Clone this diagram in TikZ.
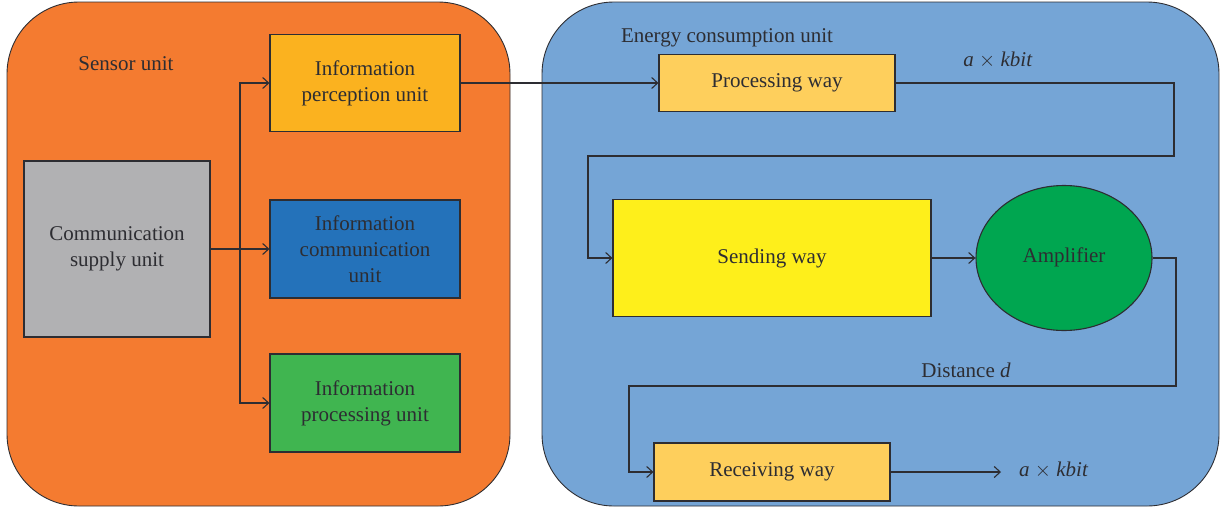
\documentclass[tikz,border=0pt]{standalone}
\usepackage{fontspec}
\setmainfont{Liberation Serif}
\usetikzlibrary{arrows.meta,shapes.geometric}
\definecolor{orangebg}{RGB}{244,123,48}
\definecolor{bluebg}{RGB}{117,165,214}
\definecolor{percep}{RGB}{251,178,31}
\definecolor{commu}{RGB}{36,114,186}
\definecolor{procu}{RGB}{64,181,80}
\definecolor{grayu}{RGB}{177,177,179}
\definecolor{wayc}{RGB}{254,207,92}
\definecolor{sendc}{RGB}{254,239,27}
\definecolor{ampc}{RGB}{0,166,80}
\definecolor{linec}{RGB}{45,45,50}
\begin{document}
\begin{tikzpicture}[x=1pt,y=-1pt,
  box/.style={draw=linec,line width=1.1pt,inner sep=0pt,align=center,font=\fontsize{21}{26}\selectfont,text=linec},
  lbl/.style={inner sep=0pt,font=\fontsize{21}{26}\selectfont,text=linec},
  con/.style={draw=linec,line width=1.1pt,-{Straight Barb[length=6pt,width=11pt]}},
  plain/.style={draw=linec,line width=1.1pt}]
\useasboundingbox (0,0) rectangle (1223,509);
\draw[fill=orangebg,draw=linec,line width=0.9pt,rounded corners=72pt] (7,2) rectangle (510,506);
\draw[fill=bluebg,draw=linec,line width=0.9pt,rounded corners=72pt] (542,2) rectangle (1219,506);
\node[lbl] (sensor) at (126,64) {Sensor unit};
\node[lbl] (energy) at (727,38) {Energy consumption unit};
\node[box,fill=grayu,minimum width=186pt,minimum height=176pt] (supply) at (117,249) {Communication\\supply unit};
\node[box,fill=percep,minimum width=190pt,minimum height=97pt] (percep) at (365,83) {Information\\perception unit};
\node[box,fill=commu,minimum width=190pt,minimum height=98pt] (comm) at (365,249) {Information\\communication\\unit};
\node[box,fill=procu,minimum width=190pt,minimum height=98pt] (proc) at (365,403) {Information\\processing unit};
\node[box,fill=wayc,minimum width=236pt,minimum height=57pt] (pway) at (777,83) {Processing way};
\node[box,fill=sendc,minimum width=318pt,minimum height=117pt] (send) at (772,258) {Sending way};
\node[box,ellipse,fill=ampc,minimum width=176pt,minimum height=145pt] (amp) at (1064,258) {};
\node[lbl] (amplbl) at (1064,257) {Amplifier};
\node[box,fill=wayc,minimum width=236pt,minimum height=58pt] (rway) at (772,472) {Receiving way};
\node[lbl] (kbit1) at (998,60) {\textit{a} $\times$ \textit{kbit}};
\node[lbl] (dist) at (966,370) {Distance \textit{d}};
\node[lbl,anchor=west] (kbit2) at (1019,470) {\textit{a} $\times$ \textit{kbit}};
\coordinate (br) at (240,249);
\coordinate (out) at (1001,472);
\draw[plain] (supply.east) -- (br);
\draw[con] (br) |- (percep.west);
\draw[con] (br) -- (comm.west);
\draw[con] (br) |- (proc.west);
\draw[con] (percep.east) -- (pway.west);
\draw[con] (pway.east) -- (1174,83) -- (1174,156) -- (588,156) |- (send.west);
\draw[con] (send.east) -- (amp.west);
\draw[con] (amp.east) -- (1176,258) -- (1176,386) -- (629,386) |- (rway.west);
\draw[con] (rway.east) -- (out);
\end{tikzpicture}
\end{document}
